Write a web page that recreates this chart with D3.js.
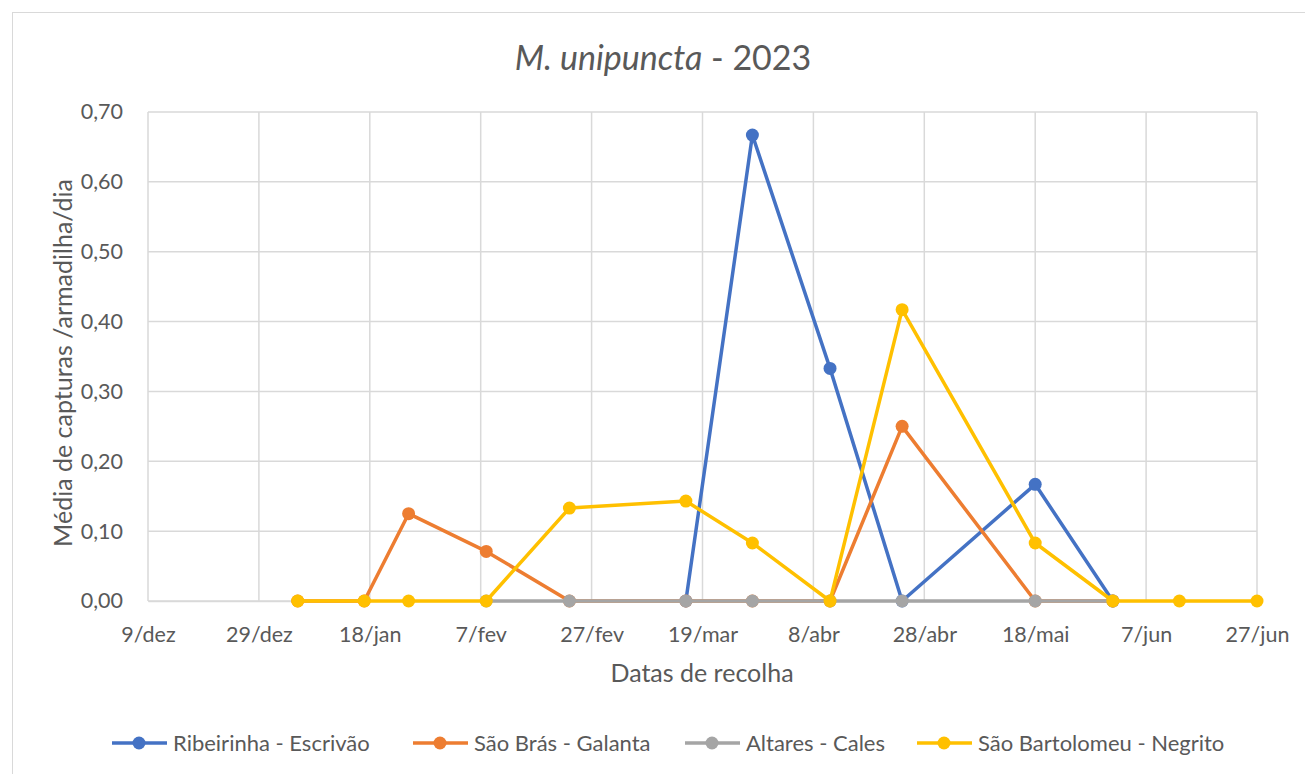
<!DOCTYPE html>
<html>
<head>
<meta charset="utf-8">
<script src="https://cdn.jsdelivr.net/npm/d3@7"></script>
<style>
  body { margin: 0; background: #fff; }
  svg text { font-family: Lato, "Open Sans", sans-serif; fill: #595959; }
</style>
</head>
<body>
<svg id="chart" width="1305" height="774"></svg>
<script>
// collection dates (dd/mm/yyyy) and mean captures per trap per day
const blueDates = ["16/03/2023", "28/03/2023", "11/04/2023", "24/04/2023", "18/05/2023", "01/06/2023"]
const blueValues = [0, 0.667, 0.333, 0, 0.167, 0]

const orangeDates = ["05/01/2023", "17/01/2023", "25/01/2023", "08/02/2023", "23/02/2023", "16/03/2023", "28/03/2023", "11/04/2023", "24/04/2023", "18/05/2023", "01/06/2023"]
const orangeValues = [0, 0, 0.125, 0.071, 0, 0, 0, 0, 0.25, 0, 0]

const grayDates = ["08/02/2023", "23/02/2023", "16/03/2023", "28/03/2023", "11/04/2023", "24/04/2023", "18/05/2023", "01/06/2023"]
const grayValues = [0, 0, 0, 0, 0, 0, 0, 0]

const yellowDates = ["05/01/2023", "17/01/2023", "25/01/2023", "08/02/2023", "23/02/2023", "16/03/2023", "28/03/2023", "11/04/2023", "24/04/2023", "18/05/2023", "01/06/2023", "13/06/2023", "27/06/2023"]
const yellowValues = [0, 0, 0, 0, 0.133, 0.143, 0.083, 0, 0.417, 0.083, 0, 0, 0]

const seriesNames = ["Ribeirinha - Escrivão", "São Brás - Galanta", "Altares - Cales", "São Bartolomeu - Negrito"]
const colors = ["#4472C4", "#ED7D31", "#A5A5A5", "#FFC000"]

const xStart = "09/12/2022"
const xEnd = "27/06/2023"
const tickStepDays = 20
const yTicks = [0, 0.1, 0.2, 0.3, 0.4, 0.5, 0.6, 0.7]
const monthNames = ["jan", "fev", "mar", "abr", "mai", "jun", "jul", "ago", "set", "out", "nov", "dez"]

const parse = d3.timeParse("%d/%m/%Y")
const svg = d3.select("#chart")

const margin = { left: 148, right: 1257, top: 112, bottom: 601 }

const x = d3.scaleTime()
  .domain([parse(xStart), parse(xEnd)])
  .range([margin.left, margin.right])
const y = d3.scaleLinear()
  .domain([0, 0.7])
  .range([margin.bottom, margin.top])

// outer chart border
svg.append("rect")
  .attr("x", 12.5).attr("y", 12.5)
  .attr("width", 1300).attr("height", 770)
  .attr("fill", "none")
  .attr("stroke", "#d9d9d9")

const xTickDates = d3.timeDay.every(1).range(parse(xStart), d3.timeDay.offset(parse(xEnd), 1))
  .filter((d, i) => i % tickStepDays === 0)

// gridlines
svg.append("g")
  .selectAll("line.h")
  .data(yTicks)
  .enter().append("line")
  .attr("x1", margin.left).attr("x2", margin.right)
  .attr("y1", d => y(d)).attr("y2", d => y(d))
  .attr("stroke", "#d9d9d9").attr("stroke-width", 1.5)

svg.append("g")
  .selectAll("line.v")
  .data(xTickDates)
  .enter().append("line")
  .attr("x1", d => x(d)).attr("x2", d => x(d))
  .attr("y1", margin.top).attr("y2", margin.bottom)
  .attr("stroke", "#d9d9d9").attr("stroke-width", 1.5)

// axes (labels only)
const fmt = d3.format(".2f")
const yAxis = d3.axisLeft(y)
  .tickValues(yTicks)
  .tickSize(0)
  .tickPadding(25)
  .tickFormat(d => fmt(d).replace(".", ","))
const yg = svg.append("g").attr("transform", `translate(${margin.left},0)`).call(yAxis)
yg.select(".domain").remove()
yg.selectAll("text").style("font-size", "21.5px").attr("fill", "#595959")

const xAxis = d3.axisBottom(x)
  .tickValues(xTickDates)
  .tickSize(0)
  .tickPadding(26)
  .tickFormat(d => d.getDate() + "/" + monthNames[d.getMonth()])
const xg = svg.append("g").attr("transform", `translate(0,${margin.bottom})`).call(xAxis)
xg.select(".domain").attr("stroke", "#d9d9d9").attr("stroke-width", 1.5)
xg.selectAll("text").style("font-size", "21.5px").attr("fill", "#595959")

// series
const series = [
  { dates: blueDates, values: blueValues },
  { dates: orangeDates, values: orangeValues },
  { dates: grayDates, values: grayValues },
  { dates: yellowDates, values: yellowValues }
]

const line = d3.line()
  .x(d => x(d.date))
  .y(d => y(d.value))

series.forEach(function (s, i) {
  const pts = s.dates.map((d, j) => ({ date: parse(d), value: s.values[j] }))
  const g = svg.append("g")
  g.append("path")
    .datum(pts)
    .attr("d", line)
    .attr("fill", "none")
    .attr("stroke", colors[i])
    .attr("stroke-width", 3.5)
    .attr("stroke-linejoin", "round")
  g.selectAll("circle")
    .data(pts)
    .enter().append("circle")
    .attr("cx", d => x(d.date))
    .attr("cy", d => y(d.value))
    .attr("r", 6.5)
    .attr("fill", colors[i])
})

// title
const title = svg.append("text")
  .attr("x", 663).attr("y", 70)
  .attr("text-anchor", "middle")
  .style("font-size", "34px")
title.append("tspan").style("font-style", "italic").text("M. unipuncta")
title.append("tspan").text(" - 2023")

// axis titles
svg.append("text")
  .attr("x", 702).attr("y", 682)
  .attr("text-anchor", "middle")
  .style("font-size", "25px")
  .text("Datas de recolha")

svg.append("text")
  .attr("transform", "translate(72,363) rotate(-90)")
  .attr("text-anchor", "middle")
  .style("font-size", "25px")
  .text("Média de capturas /armadilha/dia")

// legend
const legendX = [112, 413, 685, 917]
const legend = svg.append("g")
seriesNames.forEach(function (name, i) {
  const lg = legend.append("g").attr("transform", `translate(${legendX[i]},743)`)
  lg.append("line")
    .attr("x1", 0).attr("x2", 55)
    .attr("stroke", colors[i]).attr("stroke-width", 3.5)
  lg.append("circle").attr("cx", 27).attr("r", 6.5).attr("fill", colors[i])
  lg.append("text")
    .attr("x", 61).attr("y", 8)
    .style("font-size", "22px")
    .text(name)
})
</script>
</body>
</html>
